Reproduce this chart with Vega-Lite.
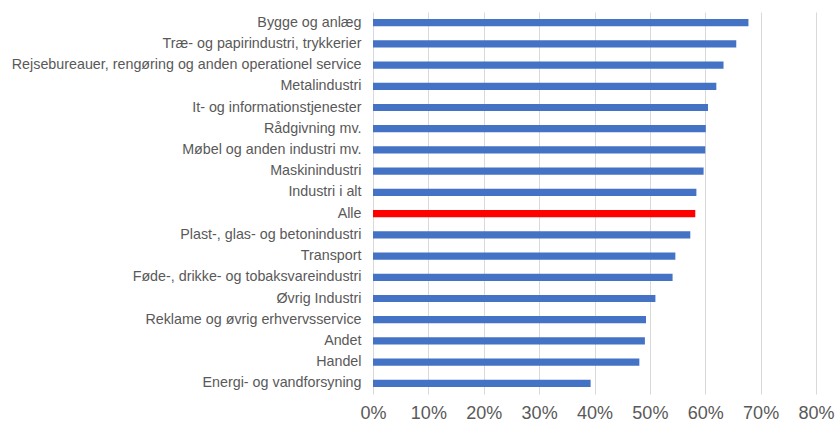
{
  "$schema": "https://vega.github.io/schema/vega-lite/v6.json",
  "width": 443,
  "height": 382,
  "autosize": "none",
  "padding": {"left": 373, "top": 12, "right": 20, "bottom": 30},
  "background": "white",
  "config": {"view": {"stroke": null}, "font": "Liberation Sans"},
  "data": {"values": [
    {"category": "Bygge og anlæg", "value": 0.678},
    {"category": "Træ- og papirindustri, trykkerier", "value": 0.656},
    {"category": "Rejsebureauer, rengøring og anden operationel service", "value": 0.633},
    {"category": "Metalindustri", "value": 0.620},
    {"category": "It- og informationstjenester", "value": 0.605},
    {"category": "Rådgivning mv.", "value": 0.601},
    {"category": "Møbel og anden industri mv.", "value": 0.600},
    {"category": "Maskinindustri", "value": 0.597},
    {"category": "Industri i alt", "value": 0.584},
    {"category": "Alle", "value": 0.582},
    {"category": "Plast-, glas- og betonindustri", "value": 0.573},
    {"category": "Transport", "value": 0.546},
    {"category": "Føde-, drikke- og tobaksvareindustri", "value": 0.541},
    {"category": "Øvrig Industri", "value": 0.510},
    {"category": "Reklame og øvrig erhvervsservice", "value": 0.493},
    {"category": "Andet", "value": 0.491},
    {"category": "Handel", "value": 0.481},
    {"category": "Energi- og vandforsyning", "value": 0.393}
  ]},
  "mark": {"type": "bar"},
  "encoding": {
    "y": {
      "field": "category", "type": "nominal", "sort": null,
      "scale": {"paddingInner": 0.66, "paddingOuter": 0.33},
      "axis": {"title": null, "ticks": false, "domain": false, "labelFontSize": 14.3, "labelColor": "#595959", "labelPadding": 12, "labelLimit": 400}
    },
    "x": {
      "field": "value", "type": "quantitative",
      "scale": {"domain": [0, 0.8], "nice": false},
      "axis": {"title": null, "format": ".0%", "values": [0,0.1,0.2,0.3,0.4,0.5,0.6,0.7,0.8], "labelOverlap": false, "labelFlush": false, "ticks": false, "domain": false, "labelFontSize": 18, "labelColor": "#595959", "labelPadding": 10, "gridColor": "#d9d9d9", "gridWidth": 1}
    },
    "color": {
      "condition": {"test": "datum.category === 'Alle'", "value": "#FF0000"},
      "value": "#4472C4"
    }
  }
}
